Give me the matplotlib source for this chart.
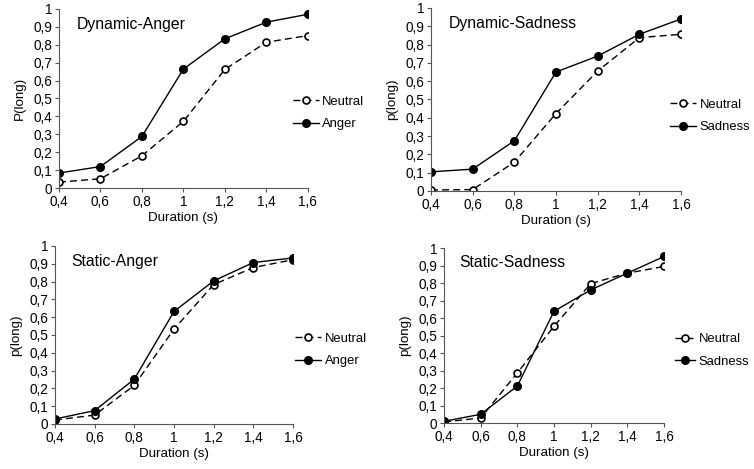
import matplotlib
matplotlib.use("Agg")
import matplotlib.pyplot as plt
from matplotlib.ticker import FuncFormatter

plt.rcParams['font.family'] = ['Liberation Sans', 'DejaVu Sans']

# Dane
durations = [0.4, 0.6, 0.8, 1.0, 1.2, 1.4, 1.6]

dyn_anger_neutral = [0.033, 0.052, 0.18, 0.372, 0.662, 0.814, 0.851]
dyn_anger_emo = [0.084, 0.12, 0.288, 0.664, 0.833, 0.926, 0.970]

dyn_sad_neutral = [0.005, 0.007, 0.157, 0.423, 0.655, 0.838, 0.856]
dyn_sad_emo = [0.104, 0.119, 0.274, 0.65, 0.737, 0.856, 0.94]

stat_anger_neutral = [0.022, 0.05, 0.217, 0.533, 0.783, 0.879, 0.923]
stat_anger_emo = [0.028, 0.075, 0.252, 0.632, 0.804, 0.907, 0.933]

stat_sad_neutral = [0.006, 0.029, 0.287, 0.553, 0.797, 0.857, 0.895]
stat_sad_emo = [0.01, 0.05, 0.212, 0.639, 0.761, 0.857, 0.952]

titles = ["Dynamic-Anger", "Dynamic-Sadness", "Static-Anger", "Static-Sadness"]
emotions = ["Anger", "Sadness", "Anger", "Sadness"]
ylabels = ["P(long)", "p(long)", "p(long)", "p(long)"]
neutral_series = [dyn_anger_neutral, dyn_sad_neutral, stat_anger_neutral, stat_sad_neutral]
emo_series = [dyn_anger_emo, dyn_sad_emo, stat_anger_emo, stat_sad_emo]

# Pozycje osi [left, bottom, width, height] i legend
axes_rects = [
    [0.0782, 0.599, 0.330, 0.382],
    [0.5716, 0.593, 0.3316, 0.390],
    [0.0729, 0.096, 0.3157, 0.3795],
    [0.5889, 0.098, 0.2918, 0.373],
]
legend_anchor = [(0.94, 0.42), (0.956, 0.41), (1.01, 0.416), (1.05, 0.414)]
legend_handle = [2.0, 2.0, 2.0, 1.55]

comma = FuncFormatter(lambda v, pos: ("%g" % round(v, 2)).replace(".", ","))

fig = plt.figure(figsize=(7.54, 4.69), dpi=100)

for i in range(4):
    ax = fig.add_axes(axes_rects[i])
    ax.plot(durations, neutral_series[i], color='black', lw=1, dashes=(5, 3),
            marker='o', markersize=5, markerfacecolor='white',
            markeredgecolor='black', markeredgewidth=1.2, label="Neutral")
    ax.plot(durations, emo_series[i], color='black', lw=1,
            marker='o', markersize=5.5, markerfacecolor='black',
            markeredgecolor='black', label=emotions[i])
    ax.set_xlim(0.4, 1.6)
    ax.set_ylim(0, 1)
    ax.set_xticks(durations)
    ax.set_yticks([k / 10 for k in range(11)])
    ax.xaxis.set_major_formatter(comma)
    ax.yaxis.set_major_formatter(comma)
    ax.tick_params(labelsize=9.8, length=3, color='#555555', pad=2)
    for s in ['top', 'right']:
        ax.spines[s].set_visible(False)
    for s in ['left', 'bottom']:
        ax.spines[s].set_color('#555555')
        ax.spines[s].set_clip_on(False)
    ax.set_xlabel("Duration (s)", fontsize=9.6, labelpad=2)
    ax.set_ylabel(ylabels[i], fontsize=9.6, labelpad=5)
    ax.text(0.07, 0.915, titles[i], transform=ax.transAxes, fontsize=11.3,
            va='center', ha='left')
    ax.legend(loc='center left', bbox_to_anchor=legend_anchor[i], frameon=False,
              fontsize=9.4, handlelength=legend_handle[i], handletextpad=0.25,
              labelspacing=0.8, borderaxespad=0, borderpad=0)

fig.savefig("out.png", dpi=100)
